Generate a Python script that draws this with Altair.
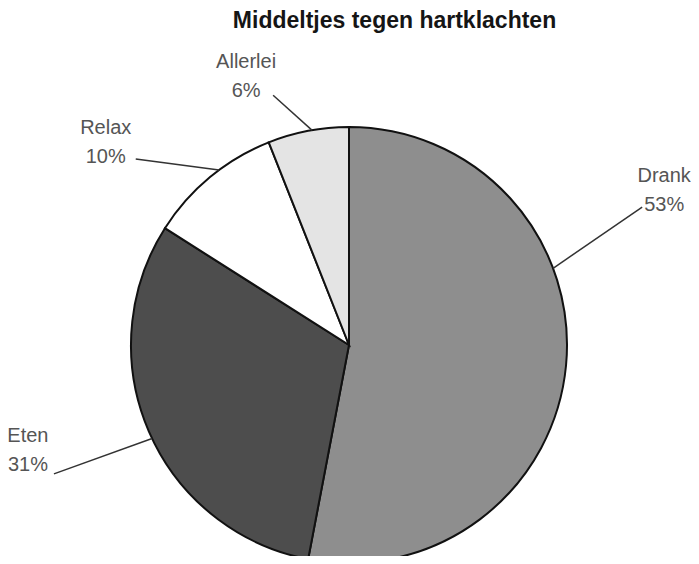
import math
import altair as alt
import pandas as pd

# ---- data ----
categories = ["Drank", "Eten", "Relax", "Allerlei"]
shares = [53, 31, 10, 6]
pct_labels = ["53%", "31%", "10%", "6%"]
fill_colors = ["#8e8e8e", "#4d4d4d", "#ffffff", "#e4e4e4"]

# ---- layout (pixels / degrees) ----
W, H = 683, 548
CX, CY, R = 341, 337, 218
inner_shift = [-26, -2, 3, 1]          # leader start angle relative to slice middle
outer_angle = [64.8, 246.4, 311.1, 343.1]
outer_radius = [324, 322, 283, 261]
text_dx = [22, -26, -30, -27]
text_dy = [-25, -32, -25, -27]

total = sum(shares)
rows = []
cum = 0
for i, (c, s) in enumerate(zip(categories, shares)):
    mid = (cum + s / 2) / total * 360
    cum += s
    a_in = math.radians(mid + inner_shift[i])
    a_out = math.radians(outer_angle[i])
    x1 = CX + R * math.sin(a_in)
    y1 = CY - R * math.cos(a_in)
    x2 = CX + outer_radius[i] * math.sin(a_out)
    y2 = CY - outer_radius[i] * math.cos(a_out)
    rows.append(dict(idx=i, cat=c, share=s, label=f"{c}\n{pct_labels[i]}",
                     x1=x1, y1=y1, x2=x2, y2=y2,
                     tx=x2 + text_dx[i], ty=y2 + text_dy[i]))
df = pd.DataFrame(rows)

base = alt.Chart(df)

pie = base.mark_arc(radius=R, stroke="#111111", strokeWidth=2).encode(
    theta=alt.Theta("share:Q", stack=True),
    order=alt.Order("idx:Q"),
    color=alt.Color("cat:N", scale=alt.Scale(domain=categories, range=fill_colors), legend=None),
    x=alt.value(CX),
    y=alt.value(CY),
)

leaders = base.mark_rule(color="#333333", strokeWidth=1.5).encode(
    x=alt.X("x1:Q", scale=None, axis=None),
    y=alt.Y("y1:Q", scale=None, axis=None),
    x2="x2:Q",
    y2="y2:Q",
)

labels = base.mark_text(
    font="Liberation Sans", fontSize=20, lineBreak="\n", lineHeight=29,
    align="center", baseline="alphabetic", color="#555555",
).encode(
    x=alt.X("tx:Q", scale=None, axis=None),
    y=alt.Y("ty:Q", scale=None, axis=None),
    text="label:N",
)

chart = alt.layer(pie, leaders, labels).properties(
    width=W, height=H,
    title=alt.TitleParams(
        "Middeltjes tegen hartklachten", font="Liberation Sans", fontSize=23,
        fontWeight="bold", color="#151515", anchor="middle", dx=45, offset=-25,
    ),
    autosize=alt.AutoSizeParams(type="none"),
    padding=0,
    background="white",
).configure_view(stroke=None)

chart.save("out.html", embed_options={"renderer": "svg", "actions": False})
